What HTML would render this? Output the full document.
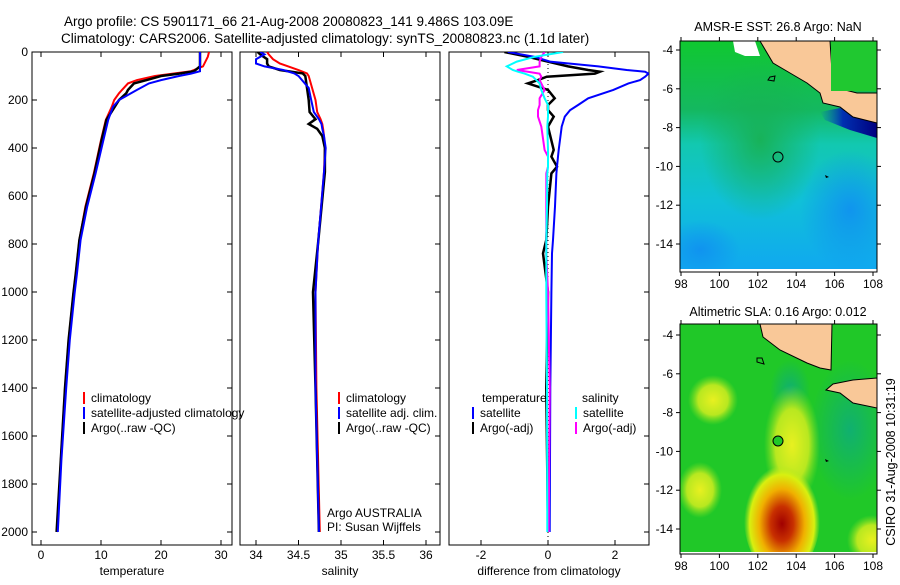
<!DOCTYPE html>
<html><head><meta charset="utf-8"><style>
body{margin:0;background:#fff;width:900px;height:580px;overflow:hidden}
svg{font-family:"Liberation Sans",sans-serif;font-size:12px}
</style></head><body>
<svg id="fig" width="900" height="580" viewBox="0 0 900 580" xmlns="http://www.w3.org/2000/svg">
<defs>
<linearGradient id="sstBase" x1="0" y1="0" x2="0" y2="1">
<stop offset="0" stop-color="#10c830"/><stop offset="0.3" stop-color="#14b860"/><stop offset="0.45" stop-color="#12c8b0"/><stop offset="0.7" stop-color="#10c0d8"/><stop offset="1" stop-color="#10a8f0"/></linearGradient>
<radialGradient id="sstGreen" cx="0.5" cy="0.5" r="0.5"><stop offset="0" stop-color="#18b050" stop-opacity="0.9"/><stop offset="1" stop-color="#18b050" stop-opacity="0"/></radialGradient>
<radialGradient id="sstBlue" cx="0.5" cy="0.5" r="0.5"><stop offset="0" stop-color="#1090f0" stop-opacity="0.9"/><stop offset="1" stop-color="#1090f0" stop-opacity="0"/></radialGradient>
<linearGradient id="sstNavy" x1="0" y1="0" x2="1" y2="0"><stop offset="0" stop-color="#0050d0" stop-opacity="0"/><stop offset="0.4" stop-color="#0030b0"/><stop offset="1" stop-color="#000080"/></linearGradient>
<radialGradient id="slaRed" cx="0.5" cy="0.55" r="0.5"><stop offset="0" stop-color="#a00000"/><stop offset="0.3" stop-color="#c83000"/><stop offset="0.6" stop-color="#f0b000"/><stop offset="0.85" stop-color="#d8f010"/><stop offset="1" stop-color="#b0e820" stop-opacity="0"/></radialGradient>
<radialGradient id="slaYel" cx="0.5" cy="0.5" r="0.5"><stop offset="0" stop-color="#e8f020"/><stop offset="0.6" stop-color="#b8e820"/><stop offset="1" stop-color="#80e020" stop-opacity="0"/></radialGradient>
<radialGradient id="slaTeal" cx="0.5" cy="0.5" r="0.5"><stop offset="0" stop-color="#10b070"/><stop offset="1" stop-color="#10b070" stop-opacity="0"/></radialGradient>
<clipPath id="c1"><rect x="32" y="52" width="200" height="493"/></clipPath>
<clipPath id="c2"><rect x="240" y="52" width="200" height="493"/></clipPath>
<clipPath id="c3"><rect x="449" y="52" width="200" height="493"/></clipPath>
<clipPath id="m1"><rect x="680" y="41" width="197" height="229"/></clipPath>
<clipPath id="m2"><rect x="680" y="324" width="197" height="229"/></clipPath>
</defs>
<text x="64" y="26" font-size="13.5">Argo profile: CS 5901171_66 21-Aug-2008 20080823_141 9.486S 103.09E</text>
<text x="61" y="43" font-size="13.5">Climatology: CARS2006. Satellite-adjusted climatology: synTS_20080823.nc (1.1d later)</text>
<g id="g1"></g>
<g id="g2"></g>
<g id="g3"></g>

<g>
<text x="778" y="31" text-anchor="middle" font-size="12.5">AMSR-E SST: 26.8 Argo: NaN</text>
<g clip-path="url(#m1)">
<rect x="680" y="41" width="197" height="229" fill="url(#sstBase)"/>
<ellipse cx="760" cy="140" rx="60" ry="80" fill="url(#sstGreen)"/>
<ellipse cx="850" cy="210" rx="50" ry="60" fill="url(#sstBlue)"/>
<ellipse cx="700" cy="250" rx="40" ry="30" fill="url(#sstBlue)"/>
<polygon points="820,112 840,108 877,118 877,138 850,130 825,120" fill="url(#sstNavy)"/>
<rect x="680" y="269" width="197" height="3" fill="#fff"/>
<polygon points="733,41 755,41 760,56 745,56 735,52" fill="#fff"/>
<polygon points="760,41 773,63 790,73 807,83 820,93 823,103 840,107 853,117 877,123 877,93 857,93 833,87 830,41" fill="#f9c898" stroke="#000" stroke-width="1"/>
<rect x="831" y="41" width="46" height="50" fill="#20c830"/>
<polygon points="770,77 775,76 774,81 768,80" fill="none" stroke="#000"/>
</g>
<rect x="680" y="41" width="197" height="231" fill="none" stroke="#000"/>
<circle cx="778" cy="157" r="5" fill="none" stroke="#000"/>
<polygon points="825,175 829,177 826,178" fill="#000"/>
<g id="ax-m1"></g>
</g>

<g>
<text x="778" y="316" text-anchor="middle" font-size="12.5">Altimetric SLA: 0.16 Argo: 0.012</text>
<g clip-path="url(#m2)">
<rect x="680" y="324" width="197" height="229" fill="#20c828"/>
<ellipse cx="850" cy="430" rx="40" ry="70" fill="url(#slaTeal)"/>
<ellipse cx="790" cy="390" rx="20" ry="30" fill="url(#slaTeal)"/>
<ellipse cx="713" cy="400" rx="25" ry="25" fill="url(#slaYel)"/>
<ellipse cx="700" cy="490" rx="22" ry="28" fill="url(#slaYel)"/>
<ellipse cx="792" cy="445" rx="28" ry="60" fill="url(#slaYel)"/>
<ellipse cx="782" cy="518" rx="38" ry="58" fill="url(#slaRed)"/>
<ellipse cx="872" cy="540" rx="25" ry="25" fill="url(#slaYel)"/>
<rect x="680" y="552" width="197" height="3" fill="#fff"/>
<polygon points="760,324 763,337 780,350 807,363 820,368 831,370 832,324" fill="#f9c898" stroke="#000" stroke-width="1"/>
<polygon points="826,390 840,393 853,403 877,408 877,378 853,380 833,384" fill="#f9c898" stroke="#000" stroke-width="1"/>
<polygon points="757,358 762,358 764,364 757,362" fill="none" stroke="#000"/>
</g>
<rect x="680" y="324" width="197" height="230" fill="none" stroke="#000"/>
<circle cx="778" cy="441" r="5" fill="#20c828" stroke="#000"/>
<polygon points="825,459 829,461 826,462" fill="#000"/>
<g id="ax-m2"></g>
</g>
<text transform="translate(895,462) rotate(-90)" text-anchor="middle" font-size="12.5">CSIRO 31-Aug-2008 10:31:19</text>
</svg>
<script>
// ---- data (depth in dbar) ----
const tDepth   = [0,20,60,80,90,100,117,131,158,172,200,228,283,367,506,644,783,922,1006,1200,1400,1700,2000];
const tArgo    = [26.5,26.5,26.5,25.5,23,20,17.6,15.5,14.5,14.2,13,12.3,10.9,10.1,8.9,7.5,6.4,5.8,5.4,4.6,4.0,3.3,2.6];
const tSat     = [26.5,26.5,26.5,26.5,25,23,20,18,16,15,13,12,11.2,10.4,9.1,7.7,6.6,6.0,5.6,4.8,4.2,3.4,2.8];
const tClim    = [28,27.8,27,25,22,19,16,14.5,13.5,13,12.2,11.8,10.8,10.0,8.8,7.4,6.4,5.8,5.4,4.6,4.0,3.3,2.7];
const sDepth   = [0,10,30,48,60,75,89,100,150,200,250,280,300,320,350,400,500,800,1000,1400,2000];
const sArgo    = [34.02,34.05,34.13,34.13,34.15,34.28,34.55,34.58,34.6,34.62,34.63,34.7,34.62,34.72,34.78,34.81,34.81,34.73,34.67,34.7,34.74];
const sSat     = [34.05,34.1,34.0,34.0,34.1,34.32,34.45,34.5,34.62,34.65,34.68,34.74,34.77,34.78,34.8,34.82,34.8,34.73,34.7,34.7,34.74];
const sClim    = [34.13,34.15,34.2,34.28,34.38,34.5,34.6,34.62,34.66,34.7,34.72,34.76,34.78,34.79,34.8,34.81,34.8,34.73,34.7,34.71,34.75];
const dDepth   = [0,20,40,60,75,82,90,103,117,131,158,193,221,242,269,311,408,436,478,506,644,783,839,1000,1400,2000];
const dTSat    = [-1.2,-0.4,0.06,1.5,2.35,2.9,3.0,2.9,2.75,2.4,1.95,1.2,0.9,0.66,0.5,0.41,0.32,0.3,0.27,0.25,0.21,0.15,0.12,0.1,0.07,0.05];
const dTArgo   = [-1.3,-0.6,0.0,0.6,1.2,1.55,1.4,-0.04,-0.3,-0.6,0.0,0.2,0.0,0.0,0.17,0.0,0.17,0.1,0.27,0.1,0.0,-0.05,-0.15,0.0,-0.05,0.0];
const dSSat    = [0.45,-0.4,-0.93,-1.23,-1.05,-0.9,-0.7,-0.45,-0.35,-0.25,-0.2,-0.1,0.0,0.0,0.0,-0.02,0.0,0.0,0.0,-0.02,-0.03,-0.05,-0.05,-0.05,-0.03,-0.02];
const dSArgo   = [-0.1,-0.2,-0.25,-0.25,-0.93,-0.6,-0.25,-0.2,-0.25,-0.2,-0.1,-0.25,-0.25,-0.3,-0.3,-0.2,-0.1,0.0,0.0,-0.05,-0.05,-0.05,-0.05,0.0,0.05,0.02];
const depthTicks = [0,200,400,600,800,1000,1200,1400,1600,1800,2000];
const tTicks = [0,10,20,30];
const sTicks = [34,34.5,35,35.5,36];
const sTickLabels = ["34","34.5","35","35.5","36"];
const dTicks = [-2,0,2];
const lonTicks = [98,100,102,104,106,108];
const latTicks = [-4,-6,-8,-10,-12,-14];

const NS="http://www.w3.org/2000/svg";
function mk(parent,tag,attrs,txt){const e=document.createElementNS(NS,tag);for(const k in attrs)e.setAttribute(k,attrs[k]);if(txt!==undefined)e.textContent=txt;parent.appendChild(e);return e;}
const yD = d => 52 + d*0.24;
const xT = v => 41 + v*6;
const xS = v => 256 + (v-34)*85;
const xDf = v => 548 + v*33.5;

function panel(g,x0,x1,xf,ticks,labels,xlabel,clip,series){
  const fr=mk(g,'rect',{x:x0,y:52,width:x1-x0,height:493,fill:'none',stroke:'#000'});
  
  
  ticks.forEach((t,i)=>{const x=xf(t);
    mk(g,'line',{x1:x,x2:x,y1:545,y2:540,stroke:'#000'});
    mk(g,'line',{x1:x,x2:x,y1:52,y2:57,stroke:'#000'});
    const tl=mk(g,'text',{x:x,y:559,'text-anchor':'middle'},labels[i]);
    
    
  });
  depthTicks.forEach(d=>{mk(g,'line',{x1:x1,x2:x1-5,y1:yD(d),y2:yD(d),stroke:'#000'});});
  const xl=mk(g,'text',{x:(x0+x1)/2,y:575,'text-anchor':'middle'},xlabel);
  
  
  const cg=mk(g,'g',{'clip-path':'url(#'+clip+')'});
  series.forEach(s=>{
    const pts=s.vals.map((v,i)=>xf(v).toFixed(1)+','+yD(s.depth[i]).toFixed(1)).join(' ');
    const p=mk(cg,'polyline',{points:pts,fill:'none',stroke:s.color,'stroke-width':s.w});
    
    
  });
}
const g1=document.getElementById('g1'),g2=document.getElementById('g2'),g3=document.getElementById('g3');
depthTicks.forEach(d=>{mk(g1,'line',{x1:32,x2:37,y1:yD(d),y2:yD(d),stroke:'#000'});
  const t=mk(g1,'text',{x:28,y:yD(d)+4,'text-anchor':'end'},String(d));
  
  
});
panel(g1,32,232,xT,tTicks,tTicks.map(String),'temperature','c1',[
 {vals:tClim,depth:tDepth,color:'#f00',w:2,name:'temp-climatology-line'},
 {vals:tArgo,depth:tDepth,color:'#000',w:2.5,name:'temp-argo-line'},
 {vals:tSat,depth:tDepth,color:'#00f',w:2,name:'temp-satellite-line'}]);
panel(g2,240,440,xS,sTicks,sTickLabels,'salinity','c2',[
 {vals:sClim,depth:sDepth,color:'#f00',w:2,name:'sal-climatology-line'},
 {vals:sArgo,depth:sDepth,color:'#000',w:2.5,name:'sal-argo-line'},
 {vals:sSat,depth:sDepth,color:'#00f',w:2,name:'sal-satellite-line'}]);
mk(g3,'line',{x1:548,x2:548,y1:52,y2:545,stroke:'#000','stroke-dasharray':'1,3'});
panel(g3,449,649,xDf,dTicks,dTicks.map(String),'difference from climatology','c3',[
 {vals:dTArgo,depth:dDepth,color:'#000',w:2.5,name:'diff-temp-argo-line'},
 {vals:dTSat,depth:dDepth,color:'#00f',w:2,name:'diff-temp-satellite-line'},
 {vals:dSArgo,depth:dDepth,color:'#f0f',w:2,name:'diff-sal-argo-line'},
 {vals:dSSat,depth:dDepth,color:'#0ff',w:2,name:'diff-sal-satellite-line'}]);

function legend(g,x,y,items){items.forEach((it,i)=>{
  if(it.c) mk(g,'rect',{x:x,y:y+i*15-10,width:2,height:12,fill:it.c});
  const t=mk(g,'text',{x:x+(it.c?8:0),y:y+i*15},it.t);
  
  
});}
legend(g1,83,402,[{c:'#f00',t:'climatology'},{c:'#00f',t:'satellite-adjusted climatology'},{c:'#000',t:'Argo(..raw -QC)'}]);
legend(g2,338,402,[{c:'#f00',t:'climatology'},{c:'#00f',t:'satellite adj. clim.'},{c:'#000',t:'Argo(..raw -QC)'}]);
legend(g3,482,402,[{t:'temperature'}]);
legend(g3,472,417,[{c:'#00f',t:'satellite'},{c:'#000',t:'Argo(-adj)'}]);
legend(g3,582,402,[{t:'salinity'}]);
legend(g3,575,417,[{c:'#0ff',t:'satellite'},{c:'#f0f',t:'Argo(-adj)'}]);
const a1=mk(g2,'text',{x:327,y:517},'Argo AUSTRALIA');
const a2=mk(g2,'text',{x:327,y:531},'PI: Susan Wijffels');

function mapAxes(id,top,bottom,latTop){
  const g=document.getElementById(id);
  const lx=v=>681+(v-98)*19.2, ly=v=>latTop+(-4-v)*19.4;
  lonTicks.forEach(v=>{mk(g,'line',{x1:lx(v),x2:lx(v),y1:bottom,y2:bottom+4,stroke:'#000'});mk(g,'line',{x1:lx(v),x2:lx(v),y1:top,y2:top-4,stroke:'#000'});
    const t=mk(g,'text',{x:lx(v),y:bottom+16,'text-anchor':'middle'},String(v));});
  latTicks.forEach(v=>{mk(g,'line',{x1:676,x2:680,y1:ly(v),y2:ly(v),stroke:'#000'});mk(g,'line',{x1:877,x2:881,y1:ly(v),y2:ly(v),stroke:'#000'});
    const t=mk(g,'text',{x:673,y:ly(v)+4,'text-anchor':'end'},String(v));});
}
mapAxes('ax-m1',41,272,50);
mapAxes('ax-m2',324,554,335);
</script>
</body></html>
